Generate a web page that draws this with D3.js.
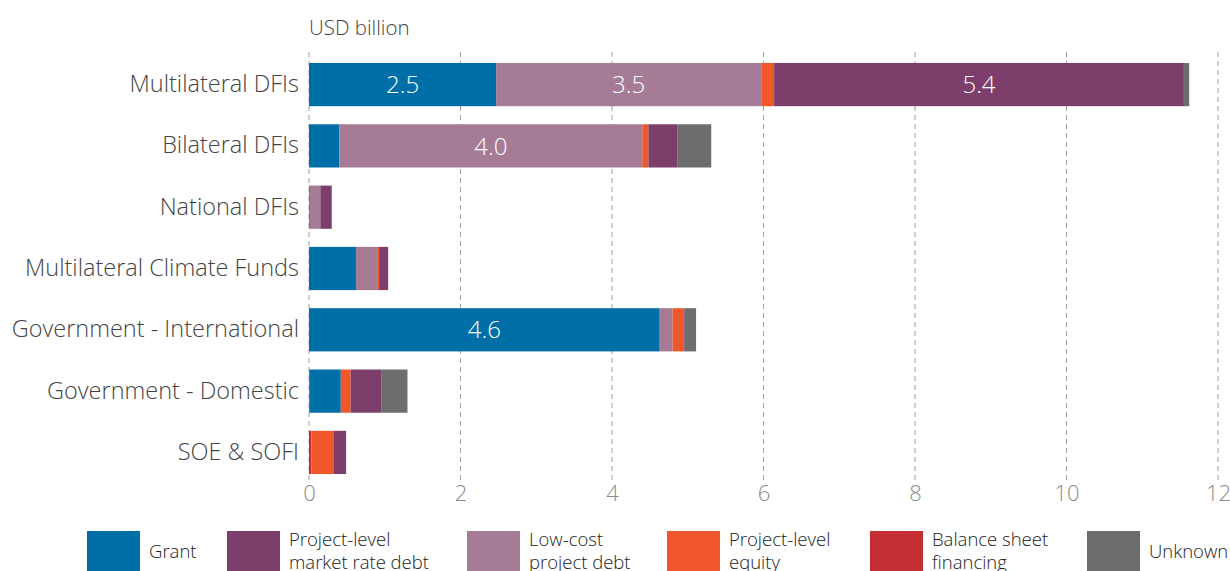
<!DOCTYPE html>
<html lang="en">
<head>
<meta charset="utf-8">
<title>Finance by source and instrument</title>
<script src="https://d3js.org/d3.v7.min.js"></script>
<style>
  body { margin: 0; background: #fff; font-family: "Open Sans", Lato, sans-serif; font-weight: 300; }
</style>
</head>
<body>
<script>
// categories (top to bottom)
var sources = ["Multilateral DFIs", "Bilateral DFIs", "National DFIs", "Multilateral Climate Funds",
               "Government - International", "Government - Domestic", "SOE & SOFI"];

// instruments, in stacking order
var instruments = ["Balance sheet financing", "Grant", "Low-cost project debt",
                   "Project-level equity", "Project-level market rate debt", "Unknown"];

// values, USD billion, one array per instrument (same order as sources)
var balanceSheet = [0,    0,    0,    0,     0,    0.01, 0.03];
var grant        = [2.47, 0.40, 0.01, 0.62,  4.63, 0.41, 0];
var lowCost      = [3.50, 4.00, 0.14, 0.29,  0.17, 0,    0];
var equity       = [0.17, 0.08, 0,    0.015, 0.15, 0.13, 0.30];
var marketDebt   = [5.41, 0.38, 0.15, 0.12,  0.01, 0.41, 0.16];
var unknown      = [0.07, 0.45, 0,    0,     0.15, 0.34, 0];

var xTicks = [0, 2, 4, 6, 8, 10, 12];

// legend order and labels (two-line entries)
var legendItems = [
  {key: "Grant", lines: ["Grant"]},
  {key: "Project-level market rate debt", lines: ["Project-level", "market rate debt"]},
  {key: "Low-cost project debt", lines: ["Low-cost", "project debt"]},
  {key: "Project-level equity", lines: ["Project-level", "equity"]},
  {key: "Balance sheet financing", lines: ["Balance sheet", "financing"]},
  {key: "Unknown", lines: ["Unknown"]}
];
var legendX = [87, 227, 467, 667, 870, 1087];

var color = d3.scaleOrdinal()
  .domain(["Grant", "Project-level market rate debt", "Low-cost project debt",
           "Project-level equity", "Balance sheet financing", "Unknown"])
  .range(["#006fa8", "#7d3e6b", "#a57b96", "#f0582b", "#c42e32", "#6d6d6d"]);

var w = 1230, h = 571;
var margin = {left: 309, right: 12, top: 52, bottom: 91};

var byKey = {
  "Balance sheet financing": balanceSheet,
  "Grant": grant,
  "Low-cost project debt": lowCost,
  "Project-level equity": equity,
  "Project-level market rate debt": marketDebt,
  "Unknown": unknown
};

var rows = sources.map(function(s, i) {
  var r = {source: s};
  instruments.forEach(function(k) { r[k] = byKey[k][i]; });
  return r;
});

var series = d3.stack().keys(instruments)(rows);

var svg = d3.select("body").append("svg")
  .attr("width", w).attr("height", h);

var x = d3.scaleLinear().domain([0, 12]).range([margin.left, margin.left + 75.75 * 12]);
var y = d3.scaleBand().domain(sources)
  .range([55, 482]).paddingInner(0.295).paddingOuter(0.13);

// dashed grid
svg.append("g").selectAll("line")
  .data(xTicks)
  .enter().append("line")
  .attr("x1", function(d) { return x(d); })
  .attr("x2", function(d) { return x(d); })
  .attr("y1", 52).attr("y2", 480)
  .attr("stroke", "#a0a0a0")
  .attr("stroke-width", 1)
  .attr("stroke-dasharray", "5,4");

// bars
svg.append("g").selectAll("g")
  .data(series)
  .enter().append("g")
  .attr("fill", function(d) { return color(d.key); })
  .selectAll("rect")
  .data(function(d) { return d; })
  .enter().append("rect")
  .attr("x", function(d) { return x(d[0]); })
  .attr("width", function(d) { return x(d[1]) - x(d[0]); })
  .attr("y", function(d) { return y(d.data.source); })
  .attr("height", y.bandwidth());

// value labels on big segments
var labels = [];
series.forEach(function(s) {
  s.forEach(function(d) {
    if (d[1] - d[0] >= 2.4) labels.push(d);
  });
});
svg.append("g").selectAll("text")
  .data(labels)
  .enter().append("text")
  .attr("x", function(d) { return (x(d[0]) + x(d[1])) / 2; })
  .attr("y", function(d) { return y(d.data.source) + y.bandwidth() / 2; })
  .attr("dy", "0.36em")
  .attr("text-anchor", "middle")
  .attr("fill", "#fff")
  .style("font-size", "24px")
  .text(function(d) { return d3.format(".1f")(d[1] - d[0]); });

// category axis
var yAxis = svg.append("g")
  .attr("transform", "translate(" + (margin.left - 10) + ",0)")
  .call(d3.axisLeft(y).tickSize(0).tickPadding(0));
yAxis.select(".domain").remove();
yAxis.selectAll("text")
  .attr("fill", "#444")
  .style("font-size", "23.5px")
  .style("font-family", "'Open Sans', sans-serif");

// value axis
var xAxis = svg.append("g")
  .attr("transform", "translate(0,482)")
  .call(d3.axisBottom(x).tickValues(xTicks).tickSize(0).tickPadding(3));
xAxis.select(".domain").remove();
xAxis.selectAll("text")
  .attr("fill", "#8a8a8a")
  .style("font-size", "22px")
  .style("font-family", "'Open Sans', sans-serif");

// unit title
svg.append("text")
  .attr("x", margin.left).attr("y", 35)
  .attr("fill", "#444")
  .style("font-size", "20.5px")
  .text("USD billion");

// legend
var lg = svg.append("g").selectAll("g")
  .data(legendItems)
  .enter().append("g")
  .attr("transform", function(d, i) { return "translate(" + legendX[i] + ",531)"; });
lg.append("rect")
  .attr("width", 53).attr("height", 45)
  .attr("fill", function(d) { return color(d.key); });
lg.append("text")
  .attr("fill", "#222")
  .style("font-size", "18.5px")
  .selectAll("tspan")
  .data(function(d) { return d.lines.length === 1 ? [{t: d.lines[0], y: 27}] :
      [{t: d.lines[0], y: 15}, {t: d.lines[1], y: 38}]; })
  .enter().append("tspan")
  .attr("x", 62)
  .attr("y", function(d) { return d.y; })
  .text(function(d) { return d.t; });
</script>
</body>
</html>
